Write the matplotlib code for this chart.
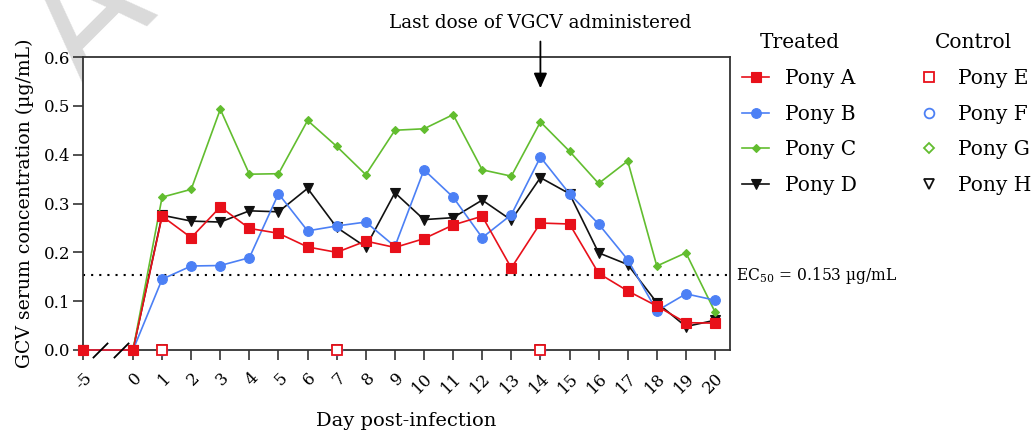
import numpy as np
import matplotlib.pyplot as plt

# serum GCV per pony, by day post-infection
days = [-5, 0, 1, 2, 3, 4, 5, 6, 7, 8, 9, 10, 11, 12, 13, 14, 15, 16, 17, 18, 19, 20]
pony_a = [0, 0, 0.274, 0.230, 0.293, 0.249, 0.239, 0.211, 0.200, 0.223, 0.210, 0.228,
          0.256, 0.274, 0.168, 0.260, 0.258, 0.157, 0.121, 0.090, 0.056, 0.055]
pony_b = [0, 0, 0.145, 0.172, 0.173, 0.189, 0.320, 0.244, 0.254, 0.262, 0.212, 0.369,
          0.313, 0.230, 0.277, 0.395, 0.320, 0.258, 0.185, 0.080, 0.115, 0.102]
pony_c = [0, 0, 0.313, 0.329, 0.493, 0.360, 0.361, 0.470, 0.417, 0.359, 0.450, 0.453,
          0.482, 0.369, 0.356, 0.467, 0.407, 0.341, 0.387, 0.172, 0.199, 0.078]
pony_d = [0, 0, 0.276, 0.264, 0.262, 0.285, 0.283, 0.331, 0.251, 0.211, 0.322, 0.267,
          0.271, 0.307, 0.266, 0.353, 0.320, 0.199, 0.175, 0.097, 0.048, 0.061]

# controls were only sampled on a few days, all below detection
control_days = [1, 7, 14]
pony_e = [0, 0, 0]
pony_f = [0, 0, 0]
pony_g = [0, 0, 0]
pony_h = [0, 0, 0]

ec50 = 0.153
last_dose_day = 14
break_marks = [-3.3, -1.2]
xtick_days = days
ytick_vals = [0.0, 0.1, 0.2, 0.3, 0.4, 0.5, 0.6]

RED = '#e8101a'
BLUE = '#4c80f5'
GREEN = '#62bd2f'
BLACK = '#111111'

plt.rcParams['font.family'] = ['DejaVu Serif']
plt.rcParams['mathtext.fontset'] = 'dejavuserif'

fig = plt.figure(figsize=(10.32, 4.32), dpi=100)
ax = fig.add_axes([83 / 1032, 82 / 432, 647 / 1032, 293 / 432])

# squeeze the pre-infection part of the time axis
k = 0.3436
def fwd(x):
    x = np.asarray(x, dtype=float)
    return np.where(x < 0, x * k, x)

def inv(x):
    x = np.asarray(x, dtype=float)
    return np.where(x < 0, x / k, x)

ax.set_xscale('function', functions=(fwd, inv))
ax.set_xlim(-5, 20.515)
ax.set_ylim(0, 0.6)

# watermark sitting behind the axes
fig.text(121 / 1032, 1 - 50 / 432, 'A', fontsize=112, color='#dadada', rotation=45,
         ha='center', va='baseline', rotation_mode='anchor', family='DejaVu Sans',
         zorder=-5)

treated = [
    ('Pony D', pony_d, BLACK, 'v', 7.5),
    ('Pony C', pony_c, GREEN, 'D', 4.5),
    ('Pony B', pony_b, BLUE, 'o', 7),
    ('Pony A', pony_a, RED, 's', 7),
]
handles_t = {}
for name, vals, col, mk, ms in treated:
    ln, = ax.plot(days, vals, color=col, marker=mk, markersize=ms, lw=1.2,
                  markeredgewidth=0.8, clip_on=False, zorder=3, label=name)
    handles_t[name] = ln

controls = [
    ('Pony H', pony_h, BLACK, 'v', 6.5),
    ('Pony G', pony_g, GREEN, 'D', 5),
    ('Pony F', pony_f, BLUE, 'o', 7),
    ('Pony E', pony_e, RED, 's', 7),
]
handles_c = {}
for name, vals, col, mk, ms in controls:
    ln, = ax.plot(control_days, vals, ls='none', marker=mk, markersize=ms,
                  markerfacecolor='white', markeredgecolor=col, markeredgewidth=1.3,
                  clip_on=False, zorder=4, label=name)
    handles_c[name] = ln

# EC50 threshold
ax.axhline(ec50, color='black', ls=(0, (1, 2.9)), lw=1.5, zorder=2)
ax.text(1.01, ec50, 'EC$_{50}$ = 0.153 µg/mL', transform=ax.get_yaxis_transform(),
        ha='left', va='center', fontsize=11.2)

# axis break between day -5 and day 0
ax.plot(break_marks, [0, 0], ls='none', marker=[(-1, -1), (1, 1)], markersize=11,
        color='black', markeredgewidth=1.3, clip_on=False, zorder=5)

ax.annotate('Last dose of VGCV administered', xy=(last_dose_day, 0.536),
            xytext=(last_dose_day, 0.670), textcoords='data', annotation_clip=False,
            ha='center', va='center', fontsize=13.2,
            arrowprops=dict(arrowstyle='-|>,head_length=0.45,head_width=0.2',
                            color='black', lw=1.3, mutation_scale=20,
                            shrinkA=5, shrinkB=0))

ax.set_xticks(xtick_days)
ax.set_xticklabels([str(d) for d in xtick_days], rotation=45, ha='right',
                   rotation_mode='anchor', fontsize=12)
ax.set_yticks(ytick_vals)
ax.set_yticklabels(['%.1f' % v for v in ytick_vals], fontsize=12)
ax.minorticks_off()
ax.tick_params(axis='both', length=7, width=1.2, color='#333333', direction='out')
ax.tick_params(axis='x', pad=7)
ax.tick_params(axis='y', pad=2)

for side in ['left', 'bottom', 'top', 'right']:
    ax.spines[side].set_linewidth(1.3)
    ax.spines[side].set_color('#333333')

ax.set_ylabel('GCV serum concentration (µg/mL)', fontsize=13.6)
ax.yaxis.set_label_coords(-0.075, 0.5)
ax.set_xlabel('Day post-infection', fontsize=14)
ax.xaxis.set_label_coords(0.5, -0.212)

names_t = ['Pony A', 'Pony B', 'Pony C', 'Pony D']
names_c = ['Pony E', 'Pony F', 'Pony G', 'Pony H']
leg_kw = dict(loc='upper left', frameon=False, fontsize=14.5, title_fontsize=14.5,
              handlelength=1.35, handletextpad=0.8, labelspacing=0.83)
fig.legend([handles_t[n] for n in names_t], names_t, title='Treated',
           bbox_to_anchor=(724 / 1032, 1 - 15 / 432), **leg_kw)
fig.legend([handles_c[n] for n in names_c], names_c, title='Control',
           bbox_to_anchor=(897 / 1032, 1 - 15 / 432), **leg_kw)

fig.savefig('out.png', dpi=100)
